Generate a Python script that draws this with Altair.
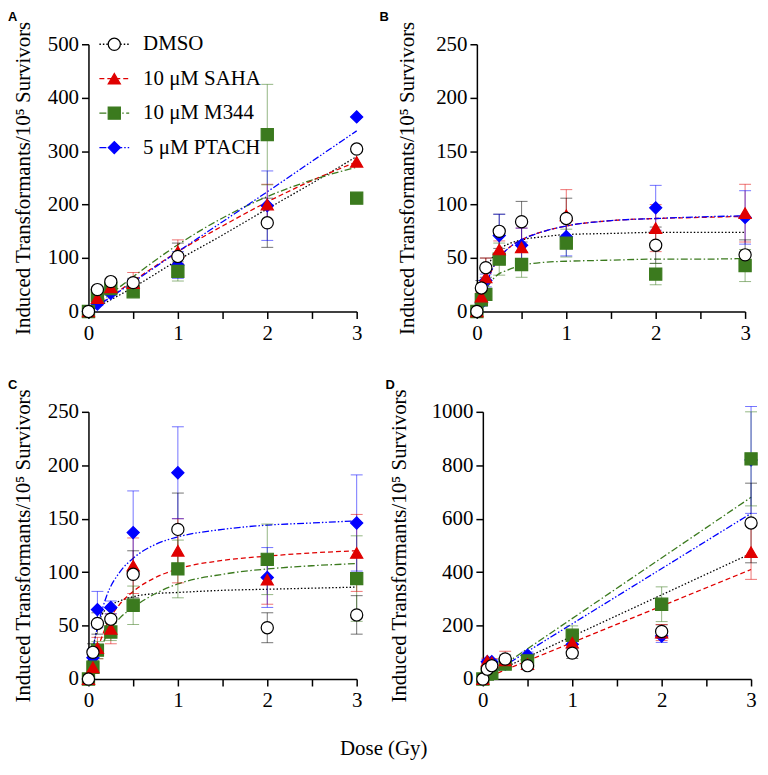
import altair as alt
import pandas as pd

SERIES = ["DMSO", "10 μM SAHA", "10 μM M344", "5 μM PTACH"]
LINE_COLORS = ["#000000", "#e00000", "#3b7a1e", "#0000ff"]
FILLS = ["#ffffff", "#e00000", "#3b7a1e", "#0000ff"]
STROKES = ["#000000", "#e00000", "#3b7a1e", "#0000ff"]
SHAPES = ["circle", "triangle-up", "square", "diamond"]
DASHES = [[1.5, 2], [5, 3], [7, 2.5, 1.5, 2.5], [7, 2, 1.5, 2, 1.5, 2]]
DRAW_ORDER = [3, 2, 1, 0]  # DMSO drawn last (on top)
LEGEND_ROW = [0, 1, 2, 3]

X_TICKS = [0, 0.5, 1, 1.5, 2, 2.5, 3]
Y_TICKS_A = [0, 100, 200, 300, 400, 500]
Y_TICKS_B = [0, 50, 100, 150, 200, 250]
Y_TICKS_C = [0, 50, 100, 150, 200, 250]
Y_TICKS_D = [0, 200, 400, 600, 800, 1000]
Y_TITLE = "Induced Transformants/10⁵ Survivors"

# ---------- Panel A ----------
DOSE_A = [0, 0.1, 0.25, 0.5, 1, 2, 3]
VAL_A = {
    "DMSO": [0, 41, 56, 54, 103, 166, 304],
    "10 μM SAHA": [0, 25, 45, 53, 112, 200, 280],
    "10 μM M344": [0, 30, 43, 37, 75, 331, 212],
    "5 μM PTACH": [0, 14, 34, 45, 87, 198, 364],
}
ERR_A = {
    "DMSO": [0, 5, 5, 8, 25, 46, 0],
    "10 μM SAHA": [0, 5, 5, 20, 22, 38, 0],
    "10 μM M344": [0, 5, 5, 8, 18, 94, 0],
    "5 μM PTACH": [0, 3, 4, 15, 25, 65, 0],
}
FITX_A = [0, 0.25, 0.5, 1, 1.5, 2, 2.5, 3]
FIT_A = {
    "DMSO": [0, 22, 45, 96, 143, 192, 240, 290],
    "10 μM SAHA": [0, 28, 57, 112, 160, 205, 245, 280],
    "10 μM M344": [0, 33, 65, 125, 175, 215, 246, 270],
    "5 μM PTACH": [0, 27, 55, 112, 168, 224, 281, 338],
}

# ---------- Panel B ----------
DOSE_B = [0, 0.05, 0.1, 0.25, 0.5, 1, 2, 3]
VAL_B = {
    "DMSO": [0, 22, 41, 75, 84, 87, 62, 53],
    "10 μM SAHA": [0, 14, 32, 58, 60, 90, 78, 92],
    "10 μM M344": [0, 11, 16, 49, 44, 64, 35, 43],
    "5 μM PTACH": [0, 8, 29, 71, 62, 70, 97, 88],
}
ERR_B = {
    "DMSO": [0, 7, 9, 16, 19, 19, 17, 14],
    "10 μM SAHA": [0, 4, 18, 8, 18, 24, 22, 27],
    "10 μM M344": [0, 3, 5, 15, 12, 13, 10, 15],
    "5 μM PTACH": [0, 3, 6, 20, 16, 18, 21, 25],
}
FITX_BC = [0, 0.05, 0.1, 0.2, 0.35, 0.5, 0.75, 1, 1.5, 2, 2.5, 3]
FIT_B = {
    "DMSO": [0, 20, 36, 54, 63, 67, 70, 72, 73, 74, 74, 74],
    "10 μM SAHA": [0, 13, 25, 44, 59, 67, 75, 80, 85, 87, 88, 89],
    "10 μM M344": [0, 11, 20, 32, 39, 43, 46, 47, 48, 49, 49, 49.5],
    "5 μM PTACH": [0, 13, 25, 44, 59, 67, 75, 80, 85, 87, 88.5, 89.5],
}

# ---------- Panel C ----------
DOSE_C = [0, 0.05, 0.1, 0.25, 0.5, 1, 2, 3]
VAL_C = {
    "DMSO": [0, 25, 52, 56, 98, 140, 48, 60],
    "10 μM SAHA": [0, 11, 29, 47, 106, 120, 93, 118],
    "10 μM M344": [0, 11, 27, 44, 69, 103, 112, 94],
    "5 μM PTACH": [0, 20, 65, 67, 137, 193, 95, 146],
}
ERR_C = {
    "DMSO": [0, 8, 10, 10, 22, 34, 14, 18],
    "10 μM SAHA": [0, 4, 10, 14, 26, 30, 23, 36],
    "10 μM M344": [0, 4, 8, 8, 18, 27, 33, 40],
    "5 μM PTACH": [0, 8, 17, 6, 39, 43, 28, 45],
}
FIT_C = {
    "DMSO": [0, 28, 48, 66, 73, 77, 80, 81, 83, 84, 85, 86],
    "10 μM SAHA": [0, 12, 27, 50, 70, 82, 95, 103, 111, 115, 118, 120],
    "10 μM M344": [0, 10, 21, 40, 57, 67, 80, 89, 98, 103, 106, 108],
    "5 μM PTACH": [0, 28, 48, 77, 100, 113, 126, 133, 140, 144, 146, 148],
}

# ---------- Panel D ----------
DOSE_D = [0, 0.05, 0.1, 0.25, 0.5, 1, 2, 3]
VAL_D = {
    "DMSO": [0, 37, 50, 75, 50, 97, 178, 584],
    "10 μM SAHA": [0, 68, 62, 70, 56, 136, 174, 475],
    "10 μM M344": [0, 19, 21, 56, 68, 164, 280, 824],
    "5 μM PTACH": [0, 65, 65, 56, 89, 130, 161, 820],
}
ERR_D = {
    "DMSO": [0, 8, 12, 15, 15, 20, 25, 149],
    "10 μM SAHA": [0, 10, 15, 34, 20, 25, 30, 102],
    "10 μM M344": [0, 5, 5, 10, 15, 35, 65, 176],
    "5 μM PTACH": [0, 8, 8, 10, 12, 15, 24, 200],
}
FITX_D = [0, 3]
FIT_D = {
    "DMSO": [5, 470],
    "10 μM SAHA": [0, 410],
    "10 μM M344": [0, 680],
    "5 μM PTACH": [0, 620],
}

SERIF = "Liberation Serif"

color_scale = alt.Scale(domain=SERIES, range=LINE_COLORS)
dash_scale = alt.Scale(domain=SERIES, range=DASHES)
shape_scale = alt.Scale(domain=SERIES, range=SHAPES)
fill_scale = alt.Scale(domain=SERIES, range=FILLS)
stroke_scale = alt.Scale(domain=SERIES, range=STROKES)


def make_panel(letter, doses, vals, errs, fitx, fits, yticks, title_pad, letter_dx, legend=False):
    pts, caps, fl = [], [], []
    for si, s in enumerate(SERIES):
        for d, v, e in zip(doses, vals[s], errs[s]):
            pts.append({"dose": d, "value": v, "lo": v - e, "hi": v + e, "err": e,
                        "series": s, "ord": DRAW_ORDER[si]})
            if e > 0:
                caps.append({"dose": d, "cap": v + e, "series": s, "ord": DRAW_ORDER[si]})
                caps.append({"dose": d, "cap": v - e, "series": s, "ord": DRAW_ORDER[si]})
        for x, y in zip(fitx, fits[s]):
            fl.append({"dose": x, "fit": y, "series": s})
    pts = pd.DataFrame(pts)
    caps = pd.DataFrame(caps)
    fl = pd.DataFrame(fl)

    xax = alt.Axis(values=X_TICKS, title=None, grid=False, tickSize=7,
                   labelExpr="datum.value % 1 === 0 ? format(datum.value, 'd') : ''",
                   labelFlush=False, labelOverlap=False, labelPadding=4)
    x = alt.X("dose:Q", scale=alt.Scale(domain=[0, 3], nice=False, zero=False), axis=xax)
    yax = alt.Axis(values=yticks, format="d", title=Y_TITLE, grid=False, tickSize=7,
                   labelPadding=3, titlePadding=title_pad)
    yscale = alt.Scale(domain=[yticks[0], yticks[-1]], nice=False)

    lines = alt.Chart(fl).mark_line(strokeWidth=1.3, interpolate="monotone").encode(
        x=x,
        y=alt.Y("fit:Q", scale=yscale, axis=yax),
        color=alt.Color("series:N", scale=color_scale, legend=None),
        strokeDash=alt.StrokeDash("series:N", scale=dash_scale, legend=None),
        detail="series:N",
    )
    bars = alt.Chart(pts[pts["err"] > 0]).mark_rule(strokeWidth=1, opacity=0.55).encode(
        x=x,
        y=alt.Y("lo:Q", scale=yscale),
        y2="hi:Q",
        color=alt.Color("series:N", scale=color_scale, legend=None),
    )
    capm = alt.Chart(caps).mark_tick(orient="horizontal", size=12, thickness=1, opacity=0.55).encode(
        x=x,
        y=alt.Y("cap:Q", scale=yscale),
        color=alt.Color("series:N", scale=color_scale, legend=None),
    )
    points = alt.Chart(pts).mark_point(size=150, strokeWidth=1.2, fillOpacity=1, opacity=1).encode(
        x=x,
        y=alt.Y("value:Q", scale=yscale),
        shape=alt.Shape("series:N", scale=shape_scale, legend=None),
        fill=alt.Fill("series:N", scale=fill_scale, legend=None),
        stroke=alt.Stroke("series:N", scale=stroke_scale, legend=None),
        order=alt.Order("ord:Q"),
    )
    data_layer = alt.layer(lines, bars, capm, points)

    if legend:
        ldf = pd.DataFrame({"series": SERIES, "row": LEGEND_ROW})
        ly = alt.Y("row:Q", axis=None,
                   scale=alt.Scale(domain=[0, 3], range=[0, 104], nice=False, zero=False))
        lrule = alt.Chart(ldf).mark_rule(strokeWidth=1.3).encode(
            x=alt.value(11), x2=alt.value(41), y=ly,
            color=alt.Color("series:N", scale=color_scale, legend=None),
            strokeDash=alt.StrokeDash("series:N", scale=dash_scale, legend=None),
        )
        lpt = alt.Chart(ldf).mark_point(size=150, strokeWidth=1.2, fillOpacity=1, opacity=1).encode(
            x=alt.value(26), y=ly,
            shape=alt.Shape("series:N", scale=shape_scale, legend=None),
            fill=alt.Fill("series:N", scale=fill_scale, legend=None),
            stroke=alt.Stroke("series:N", scale=stroke_scale, legend=None),
        )
        ltxt = alt.Chart(ldf).mark_text(align="left", baseline="middle", font=SERIF,
                                        fontSize=21, color="black").encode(
            x=alt.value(55), y=ly, text="series:N",
        )
        leg_layer = alt.layer(lrule, lpt, ltxt)
        chart = alt.layer(data_layer, leg_layer).resolve_scale(y="independent")
    else:
        chart = data_layer

    return chart.properties(
        width=270, height=269,
        title=alt.TitleParams(text=letter, anchor="start", frame="group", dx=letter_dx, offset=-3,
                              font="Liberation Sans", fontSize=13, fontWeight="bold",
                              color="black"),
    )


A = make_panel("A", DOSE_A, VAL_A, ERR_A, FITX_A, FIT_A, Y_TICKS_A, 14, -81, legend=True)
B = make_panel("B", DOSE_B, VAL_B, ERR_B, FITX_BC, FIT_B, Y_TICKS_B, 18, -98)
C = make_panel("C", DOSE_C, VAL_C, ERR_C, FITX_BC, FIT_C, Y_TICKS_C, 14, -81)
D = make_panel("D", DOSE_D, VAL_D, ERR_D, FITX_D, FIT_D, Y_TICKS_D, 22, -98)

chart = alt.vconcat(
    alt.hconcat(A, B, spacing=14),
    alt.hconcat(C, D, spacing=20),
    spacing=35,
).properties(
    padding={"left": 0, "top": 0, "right": 0, "bottom": 0},
    title=alt.TitleParams(text="Dose (Gy)", orient="bottom", anchor="middle", font=SERIF,
                          fontSize=21, fontWeight="normal", color="black", offset=27),
).configure_view(stroke=None).configure_axis(
    domainColor="black", domainWidth=1.5, tickColor="black", tickWidth=1.5,
    labelFont=SERIF, labelFontSize=21, labelColor="black",
    titleFont=SERIF, titleFontSize=21, titleFontWeight="normal", titleColor="black",
)

chart.save("out.html", embed_options={"renderer": "svg", "actions": False})
